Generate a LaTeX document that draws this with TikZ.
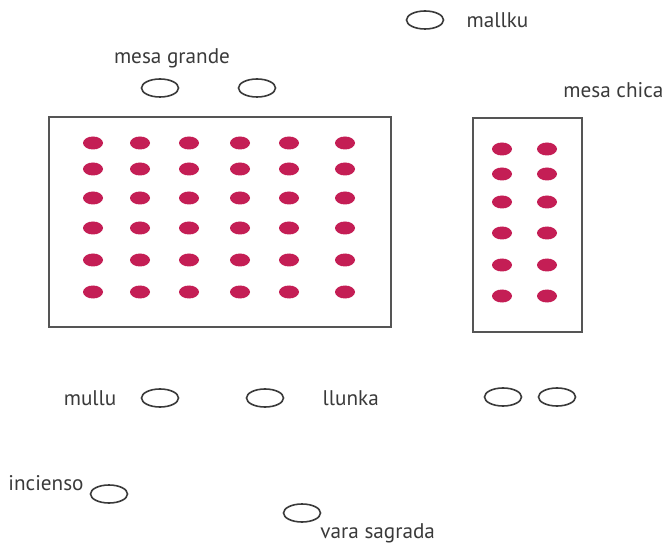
\documentclass[tikz,border=0pt]{standalone}
\usepackage{fontspec}
\setmainfont{PT Sans}
\usepackage{tikz}
\usetikzlibrary{positioning,shapes.geometric}
\definecolor{ink}{HTML}{3A3A3A}
\definecolor{frame}{HTML}{555555}
\definecolor{crimson}{HTML}{C41E55}

\begin{document}
\begin{tikzpicture}[
			x=0.5pt,y=-0.5pt,
			node distance=6pt,
			puesto/.style={ellipse,draw=ink,line width=0.8pt,minimum width=18.5pt,minimum height=9pt,inner sep=0pt},
			punto/.style={ellipse,fill=crimson,minimum width=10pt,minimum height=6.5pt,inner sep=0pt},
			mesa/.style={draw=frame,line width=1pt},
			rotulo/.style={text=ink,font=\fontsize{10.6}{13}\selectfont,inner sep=0pt}
			]
			\useasboundingbox (0,0) rectangle (669,545);
			% mesas
			\draw[mesa] (49,117) rectangle (391,327);
			\draw[mesa] (473,118) rectangle (582,332);
			\foreach \px in {93,140,189,240,289,345}
				\foreach \py in {143,169,198,228,260,292}
					\node[punto] at (\px,\py) {};
			\foreach \px in {502,547}
				\foreach \py in {149,174,202,233,265,296}
					\node[punto] at (\px,\py) {};
			% puestos
			\node[puesto] (mallku) at (425,20) {};
			\node[rotulo] (tmallku) [right=11pt of mallku] {mallku};
			\node[puesto] (g1) at (160,88) {};
			\node[puesto] (g2) at (257,88) {};
			\node[rotulo] (tgrande) at (172,58) {mesa grande};
			\node[rotulo,anchor=west] (tchica) at (563,90) {mesa chica};
			\node[puesto] (mullu) at (160,398) {};
			\node[rotulo] (tmullu) [left=12pt of mullu] {mullu};
			\node[puesto] (llunka) at (265,398) {};
			\node[rotulo] (tllunka) [right=19pt of llunka] {llunka};
			\node[puesto] (c1) at (503,397) {};
			\node[puesto] (c2) at (557,397) {};
			\node[puesto] (incienso) at (109,494) {};
			\node[rotulo,anchor=east] (tincienso) at (84,483) {incienso};
			\node[puesto] (vara) at (302,513) {};
			\node[rotulo,anchor=west] (tvara) at (320,533) {vara sagrada};
		\end{tikzpicture}
\end{document}
